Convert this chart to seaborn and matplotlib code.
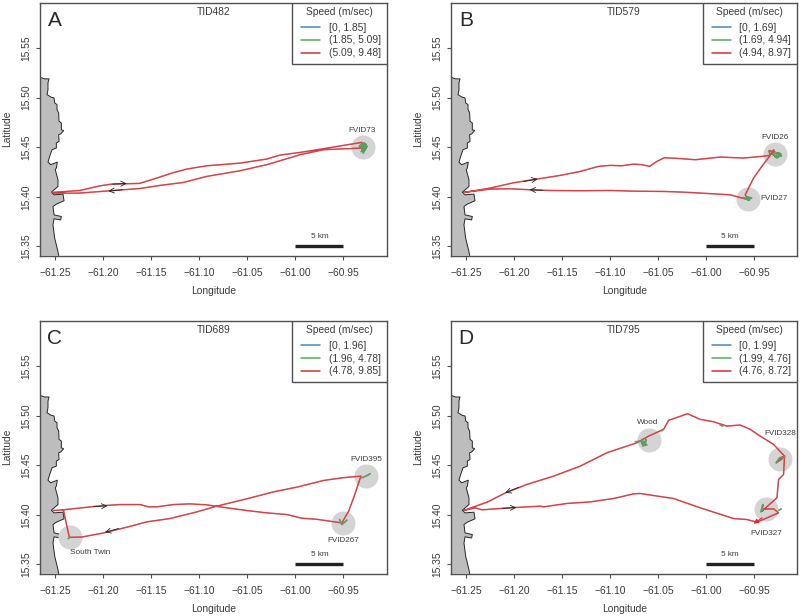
import matplotlib
matplotlib.use("Agg")
import matplotlib.pyplot as plt
from matplotlib.lines import Line2D
from matplotlib.patches import Rectangle
import pandas as pd
import seaborn as sns

sns.set_style("ticks")
plt.rcParams["font.family"] = ["Liberation Sans", "DejaVu Sans"]

lon_ticks = [-61.25, -61.20, -61.15, -61.10, -61.05, -61.00, -60.95]
lon_labels = ["\u221261.25", "\u221261.20", "\u221261.15", "\u221261.10", "\u221261.05", "\u221261.00", "\u221260.95"]
lat_ticks = [15.35, 15.40, 15.45, 15.50, 15.55]
lat_labels = ["15.35", "15.40", "15.45", "15.50", "15.55"]
xlim = (-61.2656, -60.905)
ylim = (15.3406, 15.596)

# coastline
coast_lon = [-61.2656, -61.2608, -61.2562, -61.2573, -61.2573, -61.2583, -61.2538, -61.251, -61.2503, -61.2479,
             -61.2479, -61.2462, -61.2458, -61.2434, -61.2434, -61.241, -61.2441, -61.2462, -61.2458, -61.2486,
             -61.2486, -61.2531, -61.2555, -61.2573, -61.2545, -61.2476, -61.2486, -61.2497, -61.2469, -61.2469,
             -61.2538, -61.251, -61.2417, -61.2406, -61.2486, -61.2521, -61.251, -61.2434, -61.2441, -61.251,
             -61.2521, -61.2503, -61.2469, -61.2462]
coast_lat = [15.5206, 15.519, 15.519, 15.5149, 15.5082, 15.5031, 15.5004, 15.4998, 15.4947, 15.493,
             15.488, 15.4846, 15.4762, 15.4745, 15.4677, 15.4667, 15.4634, 15.4627, 15.4559, 15.4543,
             15.4492, 15.4475, 15.4408, 15.435, 15.4324, 15.435, 15.429, 15.4273, 15.4172, 15.4104,
             15.4047, 15.402, 15.4027, 15.396, 15.3926, 15.3902, 15.3818, 15.3801, 15.3767, 15.3778,
             15.3717, 15.3582, 15.3447, 15.3407]

# panel A
a_track_lon = [-61.2535, -61.224, -61.2032, -61.191, -61.1622, -61.1442, -61.1286, -61.1129, -61.0921, -61.0574,
               -61.0297, -61.0158, -60.995, -60.9707, -60.9498, -60.9308, -60.9308, -60.9707, -60.995, -61.0297,
               -61.0574, -61.0921, -61.1164, -61.1407, -61.1615, -61.1927, -61.2257, -61.2517]
a_track_lat = [15.4044, 15.4064, 15.4111, 15.4128, 15.4135, 15.4189, 15.4239, 15.428, 15.4313, 15.434,
               15.4381, 15.4421, 15.4448, 15.4485, 15.4519, 15.4549, 15.4492, 15.4475, 15.4425, 15.4324,
               15.4263, 15.4206, 15.4145, 15.4115, 15.4084, 15.4061, 15.4037, 15.4037]
a_slow_lon = [-60.9335, -60.9285, -60.9305, -60.9265, -60.9315, -60.9275, -60.9325, -60.929, -60.9255, -60.9295, -60.9275]
a_slow_lat = [15.4505, 15.4545, 15.4475, 15.4530, 15.4455, 15.4490, 15.4520, 15.4460, 15.4510, 15.4440, 15.4535]

# panel B
b_track_lon = [-61.2524, -61.2247, -61.2004, -61.1761, -61.1518, -61.131, -61.1119, -61.0998, -61.0876, -61.0755,
               -61.0668, -61.0588, -61.0512, -61.0435, -61.0304, -61.0113, -60.9852, -60.961, -60.9419, -60.9332,
               -60.9419, -60.9505, -60.9557, -60.9592, -60.9557, -60.9748, -60.9991, -61.0234, -61.0442, -61.0755,
               -61.0998, -61.131, -61.1622, -61.183, -61.2038, -61.2247, -61.2524]
b_track_lat = [15.4044, 15.4088, 15.4142, 15.4179, 15.4216, 15.4256, 15.4307, 15.4317, 15.4313, 15.433,
               15.4324, 15.4307, 15.4357, 15.4394, 15.4388, 15.4374, 15.4401, 15.4391, 15.4408, 15.4418,
               15.4307, 15.4189, 15.4088, 15.402, 15.397, 15.402, 15.4034, 15.4047, 15.4054, 15.4057,
               15.4064, 15.4061, 15.4064, 15.4071, 15.4081, 15.4078, 15.4044]
b_loop_lon = [-60.9332, -60.9345, -60.9285, -60.9325, -60.9295, -60.9332]
b_loop_lat = [15.4418, 15.4465, 15.4455, 15.4432, 15.4472, 15.4418]
b_slow_lon = [-60.9305, -60.929, -60.926, -60.922, -60.9245, -60.928, -60.9215, -60.9265, -60.93]
b_slow_lat = [15.4430, 15.4415, 15.4392, 15.4430, 15.4445, 15.4402, 15.4412, 15.4445, 15.4425]
b_slow2_lon = [-60.9612, -60.9565, -60.9525, -60.9575, -60.955, -60.9595]
b_slow2_lat = [15.3992, 15.3972, 15.3988, 15.4, 15.3965, 15.3985]

# panel C
c_track_lon = [-61.2517, -61.2413, -61.2032, -61.1823, -61.1615, -61.1528, -61.1442, -61.1268, -61.1095, -61.0921,
               -61.0713, -61.0505, -61.0297, -61.0088, -60.9932, -60.9776, -60.9516, -60.9446, -60.9394, -60.9318,
               -60.9516, -60.9707, -60.9984, -61.0227, -61.0505, -61.0817, -61.1025, -61.1303, -61.1546, -61.1754,
               -61.1997, -61.2222, -61.2351, -61.2413]
c_track_lat = [15.4044, 15.4051, 15.4091, 15.4104, 15.4104, 15.4081, 15.4081, 15.4104, 15.4111, 15.4101,
               15.4071, 15.4044, 15.402, 15.4003, 15.3966, 15.3955, 15.3919, 15.4037, 15.4172, 15.4391,
               15.4374, 15.4347, 15.428, 15.4232, 15.4162, 15.4088, 15.403, 15.3963, 15.3929, 15.3875,
               15.3817, 15.3776, 15.3773, 15.4051]
c_slow_lon = [-60.954, -60.9516, -60.9464]
c_slow_lat = [15.3953, 15.3902, 15.3946]
c_slow2_lon = [-60.9308, -60.9265, -60.9222]
c_slow2_lat = [15.4374, 15.4392, 15.4415]
c_stop_lon = [-61.2362, -61.2345]
c_stop_lat = [15.3760, 15.3775]

# panel D
d_track_lon = [-61.2524, -61.2403, -61.2333, -61.2143, -61.1986, -61.1726, -61.1691, -61.1449, -61.1206, -61.0963,
               -61.0755, -61.0685, -61.0546, -61.0338, -61.0061, -60.9714, -60.9575, -60.9471, -60.9245, -60.9297,
               -60.9401, -60.9419, -60.9262, -60.9245, -60.9193, -60.9183, -60.9297, -60.9436, -60.954, -60.9644,
               -60.9783, -60.9922, -61.0061, -61.0192, -61.039, -61.0442, -61.0598, -61.072, -61.1032, -61.131,
               -61.1587, -61.1865, -61.2073, -61.2281, -61.2524]
d_track_lat = [15.4044, 15.4071, 15.4051, 15.4064, 15.4074, 15.4088, 15.4081, 15.4115, 15.4131, 15.4165,
               15.4212, 15.4216, 15.4195, 15.4165, 15.4071, 15.3963, 15.3953, 15.3926, 15.402, 15.4061,
               15.4057, 15.4037, 15.4172, 15.4357, 15.4408, 15.4593, 15.4711, 15.4795, 15.4863, 15.4907,
               15.4896, 15.494, 15.4964, 15.5021, 15.4954, 15.4863, 15.4795, 15.4728, 15.4627, 15.4492,
               15.4391, 15.4307, 15.4229, 15.4128, 15.4044]
d_loop_lon = [-60.9183, -60.9225, -60.9269, -60.9215, -60.9183]
d_loop_lat = [15.4593, 15.4575, 15.4526, 15.4560, 15.4593]
d_slow_lon = [-61.0737, -61.0678, -61.0655, -61.0668, -61.0635, -61.0625, -61.0645, -61.0616]
d_slow_lat = [15.4738, 15.4745, 15.4694, 15.4762, 15.4700, 15.4760, 15.4720, 15.4705]
d_slow2_lon = [-60.9269, -60.9235, -60.9193]
d_slow2_lat = [15.4526, 15.4575, 15.4586]
d_slow3_lon = [-60.9429, -60.9408, -60.9418]
d_slow3_lat = [15.403, 15.4104, 15.4045]
d_slow4_lon = [-61.0462, -61.0445]
d_slow4_lat = [15.4848, 15.4866]
d_slow5_lon = [-60.9855, -60.9825]
d_slow5_lat = [15.4908, 15.4896]
d_slow6_lon = [-60.9242, -60.9218]
d_slow6_lat = [15.4046, 15.4060]

panel_letters = ["A", "B", "C", "D"]
panel_titles = ["TID482", "TID579", "TID689", "TID795"]
speed_bins = [
    ["[0, 1.85]", "(1.85, 5.09]", "(5.09, 9.48]"],
    ["[0, 1.69]", "(1.69, 4.94]", "(4.94, 8.97]"],
    ["[0, 1.96]", "(1.96, 4.78]", "(4.78, 9.85]"],
    ["[0, 1.99]", "(1.99, 4.76]", "(4.76, 8.72]"],
]
tracks = [(a_track_lon, a_track_lat), (b_track_lon, b_track_lat), (c_track_lon, c_track_lat), (d_track_lon, d_track_lat)]
extra_red = [[], [(b_loop_lon, b_loop_lat)], [], [(d_loop_lon, d_loop_lat)]]
slow_parts = [
    [(a_slow_lon, a_slow_lat)],
    [(b_slow_lon, b_slow_lat), (b_slow2_lon, b_slow2_lat)],
    [(c_slow_lon, c_slow_lat), (c_slow2_lon, c_slow2_lat), (c_stop_lon, c_stop_lat)],
    [(d_slow_lon, d_slow_lat), (d_slow2_lon, d_slow2_lat), (d_slow3_lon, d_slow3_lat),
     (d_slow4_lon, d_slow4_lat), (d_slow5_lon, d_slow5_lat), (d_slow6_lon, d_slow6_lat)],
]
sites = [
    [("FVID73", -60.93, 15.45, -60.9304, 15.4671)],
    [("FVID26", -60.928, 15.4435, -60.928, 15.4603), ("FVID27", -60.9564, 15.398, -60.929, 15.3987)],
    [("South Twin", -61.234, 15.3774, -61.2136, 15.3623), ("FVID267", -60.9505, 15.3916, -60.9505, 15.3744),
     ("FVID395", -60.9262, 15.4388, -60.9262, 15.4556)],
    [("Wood", -61.0598, 15.4758, -61.0605, 15.4933), ("FVID328", -60.9228, 15.4566, -60.9228, 15.4819),
     ("FVID327", -60.9377, 15.4064, -60.9377, 15.3811)],
]
# tip lon, tip lat, tail lon, tail lat
arrows = [
    [(-61.1754, 15.4135, -61.19, 15.4128), (-61.1945, 15.4057, -61.18, 15.4072)],
    [(-61.1754, 15.4179, -61.19, 15.4155), (-61.1837, 15.4071, -61.17, 15.4066)],
    [(-61.1955, 15.4091, -61.21, 15.4082), (-61.198, 15.3825, -61.184, 15.3862)],
    [(-61.2091, 15.4222, -61.195, 15.4278), (-61.1976, 15.4074, -61.212, 15.4066)],
]
speed_colors = ["#4a86b8", "#5aa85c", "#d32f37"]
dark = "#505050"
text_color = "#3c3c3c"
W, H = 800, 616
FS = 7.4
AW, AH = 346.7, 253.0


def make_axes(fig, left, top, right, bottom):
    return fig.add_axes([left / W, 1 - bottom / H, (right - left) / W, (bottom - top) / H])


def draw_panel(ax, i):
    ax.fill(coast_lon + [xlim[0]], coast_lat + [ylim[0]], color="#bdbdbd", lw=0, zorder=1)
    sns.lineplot(x=coast_lon, y=coast_lat, sort=False, estimator=None, color="#262626", lw=0.7, ax=ax, zorder=2)

    site_df = pd.DataFrame(sites[i], columns=["name", "lon", "lat", "tx", "ty"])
    sns.scatterplot(data=site_df, x="lon", y="lat", s=300, color="#d4d4d4", linewidth=0, ax=ax, zorder=3, legend=False)
    for s in sites[i]:
        ax.text(s[3], s[4], s[0], fontsize=5.9, color=text_color, ha="center", va="center", zorder=8)

    lon, lat = tracks[i]
    df = pd.DataFrame({"lon": lon, "lat": lat})
    sns.lineplot(data=df, x="lon", y="lat", sort=False, estimator=None, color=speed_colors[2], lw=1.05, ax=ax, zorder=4)
    sns.lineplot(data=df, x="lon", y="lat", sort=False, estimator=None, color="#e87070", lw=0.2, ax=ax, zorder=4.5)
    for part in extra_red[i]:
        sns.lineplot(x=part[0], y=part[1], sort=False, estimator=None, color="#b85a50", lw=1.2, ax=ax, zorder=4)
    for part in slow_parts[i]:
        sns.lineplot(x=part[0], y=part[1], sort=False, estimator=None, color="#5f9c62", lw=1.25, ax=ax, zorder=5)

    for a in arrows[i]:
        ax.annotate("", xy=(a[0], a[1]), xytext=(a[2], a[3]), zorder=6,
                    arrowprops=dict(arrowstyle="->", color="#222222", lw=0.6, mutation_scale=9, shrinkA=0, shrinkB=0))
    if i == 3:
        ax.annotate("", xy=(-60.9505, 15.391), xytext=(-60.9417, 15.397), zorder=6,
                    arrowprops=dict(arrowstyle="-|>", color="#e0282e", lw=0.8, mutation_scale=7, shrinkA=0, shrinkB=0))

    # scale bar
    sns.lineplot(x=[-61.0, -60.95], y=[15.3507, 15.3507], sort=False, estimator=None, color="#222222", lw=2.4,
                 ax=ax, zorder=6, solid_capstyle="butt")
    ax.text(-60.975, 15.3598, "5 km", fontsize=5.9, color=text_color, ha="center", va="center")

    ax.set_xlim(xlim)
    ax.set_ylim(ylim)
    ax.set_xticks(lon_ticks, lon_labels)
    ax.set_yticks(lat_ticks, lat_labels)
    ax.tick_params(length=3, width=0.8, color=dark, labelcolor=text_color, labelsize=FS)
    ax.tick_params(axis="x", pad=5.5)
    ax.tick_params(axis="y", labelrotation=90, pad=3.5)
    for lab in ax.get_yticklabels():
        lab.set_va("center")
    ax.set_xlabel("Longitude", fontsize=FS, color=text_color)
    ax.set_ylabel("Latitude", fontsize=FS, color=text_color)
    ax.xaxis.set_label_coords(0.5, -30 / AH)
    ax.yaxis.set_label_coords(-27.5 / AW, 0.5)
    for sp in ax.spines.values():
        sp.set_visible(True)
        sp.set_color(dark)
        sp.set_linewidth(1.0)

    ax.text(0.5, 1 - 9.5 / AH, panel_titles[i], transform=ax.transAxes, fontsize=FS, color=text_color,
            ha="center", va="center")
    ax.text(15 / AW, 1 - 18 / AH, panel_letters[i], transform=ax.transAxes, fontsize=15, color="#2a2a2a",
            ha="center", va="center")

    # legend box and title are placed by hand, the rows come from ax.legend
    ax.add_patch(Rectangle((252 / AW, 1 - 61.5 / AH), 1 - 252 / AW, 61.5 / AH, transform=ax.transAxes,
                           facecolor="white", edgecolor=dark, lw=1.0, zorder=9))
    ax.text(299 / AW, 1 - 9.5 / AH, "Speed (m/sec)", transform=ax.transAxes, fontsize=FS, color=text_color,
            ha="center", va="center", zorder=11)
    handles = [Line2D([], [], color=c, lw=1.1) for c in speed_colors]
    leg = ax.legend(handles, speed_bins[i], loc="upper left", bbox_to_anchor=(261 / AW, 1 - 20 / AH),
                    borderaxespad=0, borderpad=0, frameon=False, fontsize=FS,
                    handlelength=1.85, handletextpad=0.85, labelspacing=0.28)
    leg.set_zorder(10)
    plt.setp(leg.get_texts(), color=text_color)


fig = plt.figure(figsize=(W / 100, H / 100), dpi=100, facecolor="white")
boxes = [(40, 2.5, 386.7, 255.7), (451, 2.5, 797.3, 255.7), (40, 320.7, 386.7, 573.7), (451, 320.7, 797.3, 573.7)]
for i, box in enumerate(boxes):
    draw_panel(make_axes(fig, *box), i)

fig.savefig("out.png", dpi=100)
